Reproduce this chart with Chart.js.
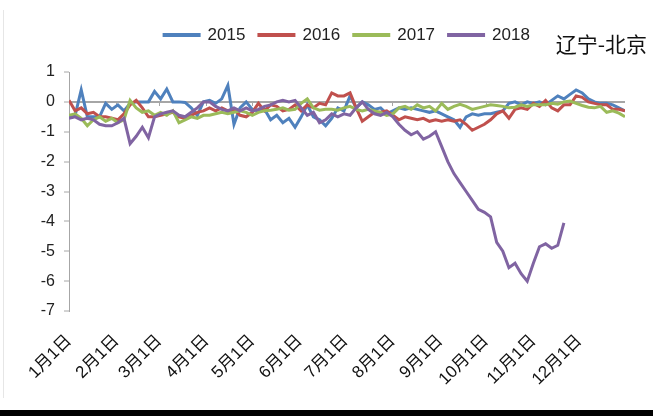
<!DOCTYPE html>
<html>
<head>
<meta charset="utf-8">
<script src="https://cdn.jsdelivr.net/npm/chart.js@4"></script>
<style>
  html, body { margin: 0; padding: 0; background: #fff; }
  #wrap { position: relative; width: 653px; height: 416px; overflow: hidden; }
  #chart { position: absolute; left: 0; top: 0; }
  #titulo { position: absolute; right: 6px; top: 31px; font-family: "Noto Sans CJK SC", sans-serif; font-size: 21px; line-height: 24px; color: #111; }
  #marco { position: absolute; left: 3px; top: 10px; height: 388px; border-left: 1px solid #e6e6e6; }
  #barra { position: absolute; left: 0; top: 410px; width: 653px; height: 6px; background: #000; }
</style>
</head>
<body>
<div id="wrap">
  <canvas id="chart" width="653" height="416"></canvas>
  <div id="titulo">辽宁-北京</div>
  <div id="marco"></div>
  <div id="barra"></div>
</div>
<script>
// años y etiquetas del eje x
const years = ['2015', '2016', '2017', '2018'];
const monthLabels = ['1月1日', '2月1日', '3月1日', '4月1日', '5月1日', '6月1日',
  '7月1日', '8月1日', '9月1日', '10月1日', '11月1日', '12月1日'];
const monthStartDays = [0, 31, 59, 90, 120, 151, 181, 212, 243, 273, 304, 334];
const yTicks = [1, 0, -1, -2, -3, -4, -5, -6, -7];
// un valor cada 4 dias
const sampleStep = 4;

const serie2015 = [-0.5, -0.45, 0.4, -0.5, -0.5, -0.5, -0.05, -0.25, -0.1, -0.3,
  -0.05, 0, 0, 0, 0.35, 0.1, 0.43, 0, 0, -0.02,
  -0.2, -0.45, 0, 0.05, -0.05, 0.1, 0.55, -0.75, -0.2, 0,
  -0.25, -0.3, -0.25, -0.6, -0.45, -0.7, -0.55, -0.85, -0.5, -0.1,
  -0.5, -0.6, -0.8, -0.55, -0.2, -0.3, 0.2, -0.2, 0, -0.1,
  -0.25, -0.2, -0.4, -0.3, -0.2, -0.25, -0.2, -0.25, -0.3, -0.35,
  -0.3, -0.4, -0.5, -0.6, -0.85, -0.5, -0.4, -0.45, -0.4, -0.4,
  -0.35, -0.3, -0.05, 0, -0.1, 0, -0.05, 0, -0.1, 0.05,
  0.2, 0.1, 0.25, 0.4, 0.3, 0.1, 0, -0.05, -0.05, -0.1,
  -0.2, -0.3];

const serie2016 = [0.05, -0.3, -0.2, -0.4, -0.35, -0.5, -0.5, -0.55, -0.6, -0.4,
  -0.1, 0.05, -0.2, -0.5, -0.5, -0.45, -0.4, -0.35, -0.5, -0.55,
  -0.45, -0.35, -0.3, -0.2, -0.3, -0.2, -0.3, -0.25, -0.45, -0.5,
  -0.35, -0.05, -0.3, -0.1, -0.15, -0.3, -0.25, -0.1, -0.3, -0.1,
  -0.2, -0.05, -0.1, 0.3, 0.2, 0.2, 0.3, -0.2, -0.65, -0.5,
  -0.35, -0.35, -0.3, -0.45, -0.6, -0.5, -0.55, -0.6, -0.55, -0.65,
  -0.6, -0.65, -0.6, -0.65, -0.6, -0.75, -0.95, -0.85, -0.75, -0.6,
  -0.4, -0.3, -0.55, -0.25, -0.2, -0.25, -0.05, -0.15, 0.05, -0.2,
  -0.3, -0.1, -0.1, 0.2, 0.15, 0, -0.05, -0.1, -0.1, -0.25,
  -0.25, -0.3];

const serie2017 = [-0.45, -0.4, -0.55, -0.8, -0.6, -0.5, -0.65, -0.55, -0.7, -0.6,
  0.05, -0.2, -0.35, -0.3, -0.45, -0.35, -0.45, -0.3, -0.7, -0.6,
  -0.5, -0.55, -0.45, -0.45, -0.4, -0.35, -0.4, -0.35, -0.3, -0.35,
  -0.45, -0.35, -0.3, -0.28, -0.25, -0.2, -0.28, -0.25, -0.05, 0.1,
  -0.2, -0.28, -0.25, -0.25, -0.28, -0.2, -0.15, -0.25, -0.3, -0.25,
  -0.3, -0.35, -0.45, -0.4, -0.2, -0.15, -0.25, -0.1, -0.2, -0.15,
  -0.3, -0.05, -0.25, -0.15, -0.08, -0.15, -0.25, -0.2, -0.15, -0.1,
  -0.12, -0.15, -0.2, -0.18, -0.1, -0.15, -0.1, -0.1, -0.1, -0.05,
  -0.08, 0, 0.03, -0.05, -0.12, -0.18, -0.2, -0.15, -0.35, -0.3,
  -0.38, -0.5];

const serie2018 = [-0.55, -0.5, -0.6, -0.55, -0.6, -0.75, -0.8, -0.8, -0.7, -0.55,
  -1.4, -1.15, -0.85, -1.2, -0.5, -0.4, -0.35, -0.3, -0.45, -0.5,
  -0.35, -0.2, 0, 0, -0.15, -0.25, -0.3, -0.2, -0.3, -0.2,
  -0.3, -0.25, -0.15, -0.1, 0, 0.05, 0, 0.05, -0.2, -0.45,
  -0.35, -0.7, -0.6, -0.4, -0.5, -0.4, -0.45, -0.2, 0, -0.25,
  -0.4, -0.45, -0.35, -0.5, -0.75, -0.95, -1.1, -1.0, -1.25, -1.15,
  -1.0, -1.5, -2.0, -2.4, -2.7, -3.0, -3.3, -3.6, -3.7, -3.85,
  -4.7, -5.0, -5.55, -5.4, -5.75, -6.0, -5.4, -4.85, -4.75, -4.9,
  -4.8, -4.05];

const series = [serie2015, serie2016, serie2017, serie2018];
const colores = ['#4F81BD', '#C0504D', '#9BBB59', '#8064A2'];
const fuente = '"Liberation Sans", "Noto Sans CJK SC", sans-serif';
const gris = '#a6a6a6';

const datasets = series.map((valores, i) => ({
  label: years[i],
  data: valores.map((v, j) => ({ x: j * sampleStep, y: v })),
  borderColor: colores[i],
  backgroundColor: colores[i],
  borderWidth: 3,
  pointRadius: 0,
  tension: 0,
  order: series.length - i // 2018 queda encima, como en excel
}));

const ctx = document.getElementById('chart').getContext('2d');
const myChart = new Chart(ctx, {
  type: 'line',
  data: { datasets: datasets },
  options: {
    responsive: false,
    animation: false,
    layout: { padding: { left: 0, right: 28, top: 13, bottom: 0 } },
    plugins: {
      legend: {
        position: 'top',
        fullSize: false,
        labels: {
          boxWidth: 35,
          boxHeight: 1,
          padding: 13.5,
          color: '#222',
          font: { family: fuente, size: 17 },
          sort: (a, b) => a.datasetIndex - b.datasetIndex
        }
      },
      // titulo vacio, solo deja espacio entre leyenda y grafico
      title: { display: true, text: '', fullSize: false, weight: 500, padding: { top: 0, bottom: 6.5 }, font: { size: 10 } },
      tooltip: { enabled: false }
    },
    scales: {
      x: {
        type: 'linear',
        min: 0,
        max: 364,
        afterBuildTicks: scale => { scale.ticks = monthStartDays.map(d => ({ value: d })); },
        afterFit: scale => { scale.height = 105; },
        grid: { display: false, drawTicks: false },
        border: { display: false },
        ticks: {
          autoSkip: false,
          minRotation: 45,
          maxRotation: 45,
          padding: 20,
          color: '#111',
          font: { family: fuente, size: 17 },
          callback: (v, i) => monthLabels[i]
        }
      },
      // marcas de mes sobre la linea del cero
      xCero: {
        type: 'linear',
        min: 0,
        max: 364,
        position: { y: 0 },
        afterBuildTicks: scale => { scale.ticks = monthStartDays.map(d => ({ value: d })); },
        ticks: { display: false },
        grid: { drawOnChartArea: false, drawTicks: true, tickLength: 4, tickColor: gris },
        border: { display: false }
      },
      y: {
        min: -7,
        max: 1,
        afterBuildTicks: scale => { scale.ticks = yTicks.map(v => ({ value: v })); },
        afterFit: scale => { scale.width = 69; },
        ticks: { padding: 9, color: '#222', font: { family: fuente, size: 16 } },
        grid: {
          color: c => (c.tick && c.tick.value === 0) ? gris : 'rgba(0,0,0,0)',
          lineWidth: 2,
          tickColor: gris,
          tickLength: 5,
          tickWidth: 1
        },
        border: { color: gris, width: 1 }
      }
    }
  }
});
</script>
</body>
</html>
